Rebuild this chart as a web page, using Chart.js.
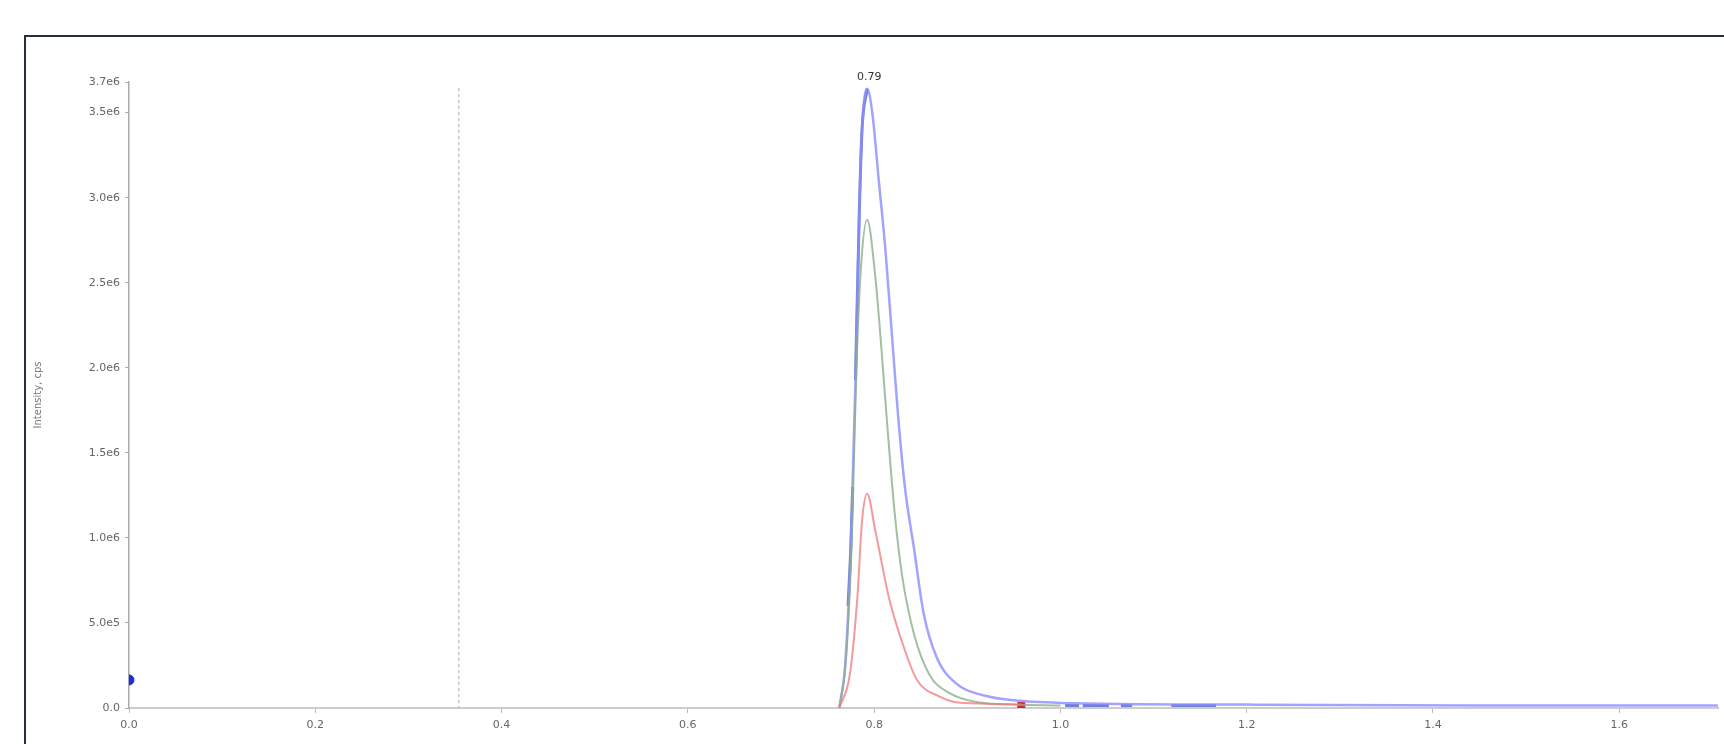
<!DOCTYPE html>
<html>
<head>
<meta charset="utf-8">
<script src="https://cdn.jsdelivr.net/npm/chart.js@4/dist/chart.umd.min.js"></script>
<style>
  body { margin: 0; background: #fff; }
  canvas { display: block; }
</style>
</head>
<body>
<canvas id="myChart" width="1724" height="744"></canvas>
<script>
// tick values / labels
const xTickValues = [0, 0.2, 0.4, 0.6, 0.8, 1.0, 1.2, 1.4, 1.6];
const xTickLabels = ['0.0', '0.2', '0.4', '0.6', '0.8', '1.0', '1.2', '1.4', '1.6'];
const yTickValues = [0, 5e5, 1e6, 1.5e6, 2e6, 2.5e6, 3e6, 3.5e6, 3.68e6];
const yTickLabels = ['0.0', '5.0e5', '1.0e6', '1.5e6', '2.0e6', '2.5e6', '3.0e6', '3.5e6', '3.7e6'];

// traces (time, min / intensity, cps)
const blueX = [0.7626, 0.769, 0.775, 0.780, 0.784, 0.787, 0.7925, 0.798, 0.805, 0.812, 0.819, 0.826, 0.833, 0.843, 0.853, 0.867, 0.889, 0.917, 0.95, 1.0, 1.2, 1.45, 1.706];
const blueY = [0, 0.26e6, 0.95e6, 1.93e6, 2.9e6, 3.4e6, 3.64e6, 3.5e6, 3.1e6, 2.7e6, 2.2e6, 1.7e6, 1.3e6, 0.93e6, 0.56e6, 0.3e6, 0.14e6, 0.075e6, 0.045e6, 0.03e6, 0.02e6, 0.015e6, 0.015e6];

const greenX = [0.7626, 0.77, 0.776, 0.781, 0.786, 0.7925, 0.801, 0.808, 0.815, 0.822, 0.83, 0.843, 0.86, 0.882, 0.91, 0.95, 1.0];
const greenY = [0, 0.3e6, 1.0e6, 2.0e6, 2.6e6, 2.87e6, 2.55e6, 2.1e6, 1.6e6, 1.15e6, 0.78e6, 0.43e6, 0.19e6, 0.085e6, 0.035e6, 0.02e6, 0.015e6];

const redX = [0.7626, 0.774, 0.782, 0.787, 0.7925, 0.801, 0.809, 0.8157, 0.8317, 0.846, 0.871, 0.885, 0.92, 0.958];
const redY = [0, 0.2e6, 0.65e6, 1.1e6, 1.26e6, 1.05e6, 0.83e6, 0.653e6, 0.36e6, 0.165e6, 0.065e6, 0.037e6, 0.025e6, 0.02e6];

// darker blue pieces (rising edge + baseline)
const navyX = [0.772, 0.775, 0.777, null, 0.780, 0.784, 0.787, 0.7925, null, 1.005, 1.02, null, 1.024, 1.052, null, 1.065, 1.077, null, 1.119, 1.167];
const navyY = [0.6e6, 0.95e6, 1.3e6, null, 1.93e6, 2.9e6, 3.4e6, 3.64e6, null, 0.015e6, 0.015e6, null, 0.015e6, 0.015e6, null, 0.015e6, 0.015e6, null, 0.015e6, 0.015e6];

const markerX = [0];
const markerY = [0.165e6];
const redMarkX = [0.958];
const redMarkY = [0.012e6];

const peakTime = 0.7925;
const peakValue = 3.64e6;
const peakLabel = '0.79';
const cursorTime = 0.354;

const pts = (xs, ys) => xs.map((x, i) => (x === null ? {x: NaN, y: null} : {x: x, y: ys[i]}));

const framePlugin = {
  id: 'frame',
  beforeDraw(chart) {
    const c = chart.ctx;
    c.save();
    c.strokeStyle = '#26303c';
    c.lineWidth = 2;
    c.strokeRect(25, 36, 3000, 3000);
    c.restore();
  },
  beforeDatasetsDraw(chart) {
    const c = chart.ctx;
    const x = chart.scales.x.getPixelForValue(cursorTime);
    c.save();
    c.strokeStyle = '#c4c4c4';
    c.lineWidth = 1.5;
    c.setLineDash([3, 3]);
    c.beginPath();
    c.moveTo(x, chart.chartArea.top + 6);
    c.lineTo(x, chart.chartArea.bottom);
    c.stroke();
    c.restore();
  },
  afterDatasetsDraw(chart) {
    const c = chart.ctx;
    const x = chart.scales.x.getPixelForValue(peakTime);
    const y = chart.scales.y.getPixelForValue(peakValue);
    c.save();
    c.fillStyle = '#333';
    c.font = '11px "DejaVu Sans"';
    c.textAlign = 'center';
    c.textBaseline = 'bottom';
    c.fillText(peakLabel, x + 2, y - 6);
    c.restore();
  }
};

const ctx = document.getElementById('myChart');

new Chart(ctx, {
  type: 'scatter',
  data: {
    datasets: [
      { data: pts(redX, redY), showLine: true, borderColor: 'rgba(240,120,120,0.75)', borderWidth: 2, pointRadius: 0, cubicInterpolationMode: 'monotone' },
      { data: pts(greenX, greenY), showLine: true, borderColor: 'rgba(140,175,140,0.8)', borderWidth: 2, pointRadius: 0, cubicInterpolationMode: 'monotone' },
      { data: pts(blueX, blueY), showLine: true, borderColor: 'rgba(140,140,255,0.8)', borderWidth: 2.5, pointRadius: 0, cubicInterpolationMode: 'monotone' },
      { data: pts(navyX, navyY), showLine: true, spanGaps: false, borderColor: 'rgba(50,80,190,0.7)', borderWidth: 3, pointRadius: 0, cubicInterpolationMode: 'monotone' },
      { data: pts(markerX, markerY), showLine: false, pointRadius: 5, pointBackgroundColor: '#1c2fd4', pointBorderColor: '#1c2fd4' },
      { data: pts(redMarkX, redMarkY), showLine: false, pointStyle: 'rect', pointRadius: 5, pointBackgroundColor: '#d42a2a', pointBorderColor: '#d42a2a' }
    ]
  },
  options: {
    responsive: false,
    animation: false,
    devicePixelRatio: 1,
    layout: { padding: { top: 82, left: 0, right: 0, bottom: 0 } },
    plugins: { legend: { display: false }, tooltip: { enabled: false } },
    scales: {
      x: {
        type: 'linear',
        min: 0,
        max: 1.706,
        afterBuildTicks: (s) => { s.ticks = xTickValues.map(v => ({ value: v })); },
        afterFit: (s) => { s.height = 36; },
        ticks: {
          autoSkip: false,
          maxRotation: 0,
          padding: 6,
          color: '#666',
          font: { size: 11, family: 'DejaVu Sans' },
          callback: (v, i) => xTickLabels[i]
        },
        grid: { drawOnChartArea: false, drawTicks: true, tickLength: 5, color: '#bbb' },
        border: { color: '#cccccc', width: 2 }
      },
      y: {
        min: 0,
        max: 3.68e6,
        afterBuildTicks: (s) => { s.ticks = yTickValues.map(v => ({ value: v })); },
        afterFit: (s) => { s.width = 129; },
        ticks: {
          autoSkip: false,
          padding: 5,
          color: '#666',
          font: { size: 11, family: 'DejaVu Sans' },
          callback: (v, i) => yTickLabels[i]
        },
        grid: { drawOnChartArea: false, drawTicks: true, tickLength: 4, color: '#aaa' },
        border: { color: '#aaaaaa', width: 1.5, dash: [2, 2] },
        title: {
          display: true,
          text: 'Intensity, cps',
          color: '#777',
          font: { size: 10, family: 'DejaVu Sans' },
          padding: { top: 32, bottom: 0 }
        }
      }
    }
  },
  plugins: [framePlugin]
});
</script>
</body>
</html>
